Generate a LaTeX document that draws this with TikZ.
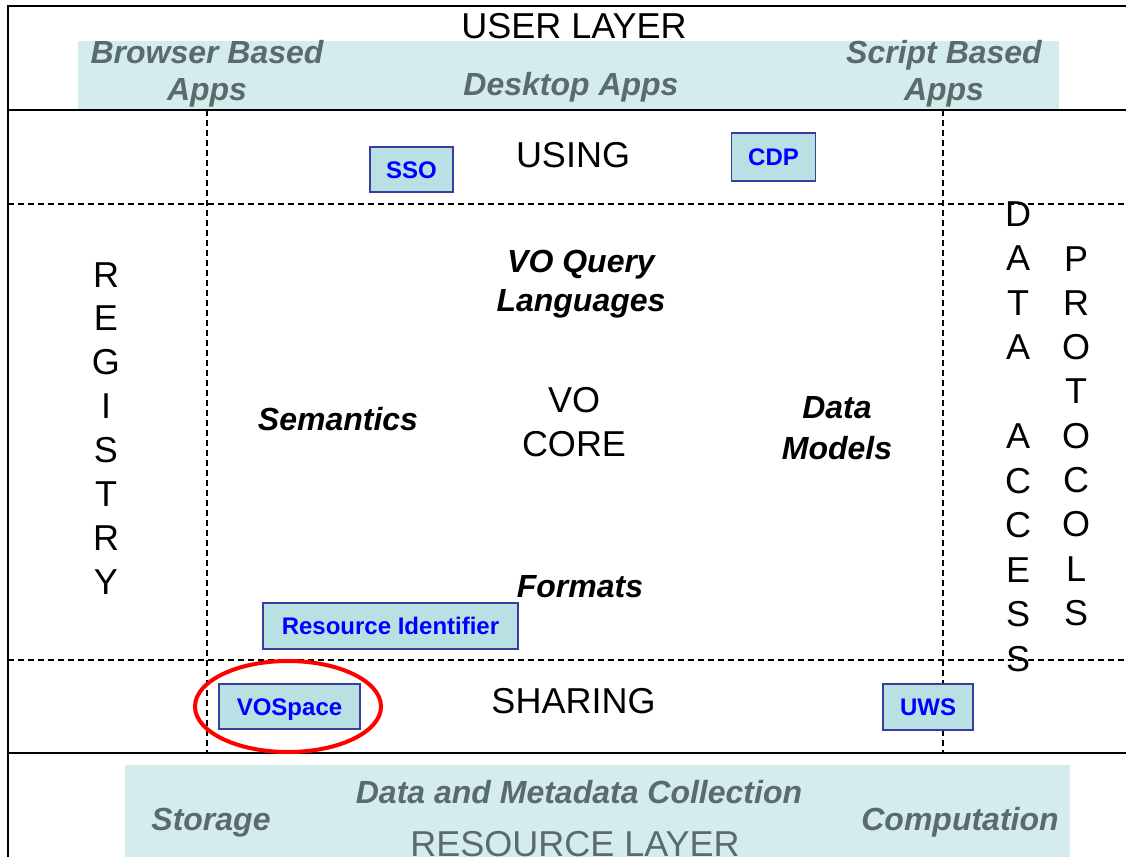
\documentclass[tikz,border=0pt]{standalone}
\usepackage{fontspec}
\setmainfont{Liberation Sans}
\definecolor{bandfill}{HTML}{D5ECEE}
\definecolor{boxfill}{HTML}{B9E0E3}
\definecolor{boxline}{HTML}{3C3CA0}
\definecolor{bandtext}{HTML}{5B6B6B}
\definecolor{boxtext}{HTML}{0000FF}
\begin{document}
\begin{tikzpicture}[x=1pt,y=-1pt,
  big/.style={font=\fontsize{36}{44}\selectfont, inner sep=0pt, anchor=base},
  bi/.style={font=\fontsize{32}{38}\selectfont\bfseries\itshape, inner sep=0pt, anchor=base},
  bandlbl/.style={bi, text=bandtext},
  appbox/.style={draw=boxline, fill=boxfill, line width=1.6pt, font=\fontsize{24}{28}\selectfont\bfseries, text=boxtext, inner sep=0pt, text height=17.2pt, text depth=0pt},
  solidline/.style={line width=1.8pt},
  dashline/.style={line width=1.4pt, dash pattern=on 6pt off 4pt},
  mark ring/.style={draw=red, line width=4pt}
]
\useasboundingbox (0,0) rectangle (1126,857);
% bands
\fill[bandfill] (78,41) rectangle (1059,110);
\fill[bandfill] (125,765) rectangle (1070,857);
% frame lines
\draw[dashline] (207,110) -- (207,753);
\draw[dashline] (943,110) -- (943,753);
\draw[dashline] (8,204) -- (1126,204);
\draw[dashline] (8,660) -- (1126,660);
\draw[solidline] (8,857) -- (8,6) -- (1126,6);
\draw[solidline] (8,110) -- (1126,110);
\draw[solidline] (8,753) -- (1126,753);
% user layer
\node[big] (userlayer) at (574,38) {USER LAYER};
\node[bandlbl] (browser1) at (207,63) {Browser Based};
\node[bandlbl] (browser2) at (207,100) {Apps};
\node[bandlbl] (desktop) at (571,95) {Desktop Apps};
\node[bandlbl] (script1) at (944,63) {Script Based};
\node[bandlbl] (script2) at (944,100) {Apps};
% using
\node[big] (using) at (573,167) {USING};
\node[appbox, minimum width=83pt, minimum height=45pt] (sso) at (411.5,169.5) {SSO};
\node[appbox, minimum width=84pt, minimum height=48pt] (cdp) at (773.5,157) {CDP};
% core
\node[bi] (query1) at (581,272) {VO Query};
\node[bi] (query2) at (581,311) {Languages};
\node[bi] (semantics) at (338,430) {Semantics};
\node[big] (vo) at (574,412) {VO};
\node[big] (core) at (574,456) {CORE};
\node[bi] (data) at (837,418) {Data};
\node[bi] (models) at (837,459) {Models};
\node[bi] (formats) at (580,597) {Formats};
\node[appbox, minimum width=255pt, minimum height=46pt] (resid) at (390.5,626) {Resource Identifier};
% registry
\foreach \l [count=\i from 0] in {R,E,G,I,S,T,R,Y}
  \node[big] (reg\i) at (106,287+43.9*\i) {\l};
% data access
\foreach \i/\l in {0/D,1/A,2/T,3/A,5/A,6/C,7/C,8/E,9/S,10/S}
  \node[big] (dac\i) at (1018,226+44.5*\i) {\l};
% protocols
\foreach \l [count=\i from 0] in {P,R,O,T,O,C,O,L,S}
  \node[big] (pro\i) at (1076,271+44.3*\i) {\l};
% sharing
\node[big] (sharing) at (573.5,713) {SHARING};
\node[appbox, minimum width=141pt, minimum height=45pt] (vospace) at (289.5,706.5) {VOSpace};
\node[appbox, minimum width=90pt, minimum height=46pt] (uws) at (928,707) {UWS};
\draw[mark ring] (288,706.5) ellipse [x radius=93pt, y radius=45.5pt];
% resource layer
\node[bandlbl] (storage) at (211,830) {Storage};
\node[bandlbl] (datacoll) at (579,803) {Data and Metadata Collection};
\node[bandlbl] (computation) at (960,830) {Computation};
\node[big, text=bandtext] (reslayer) at (575,856) {RESOURCE LAYER};
\end{tikzpicture}
\end{document}
